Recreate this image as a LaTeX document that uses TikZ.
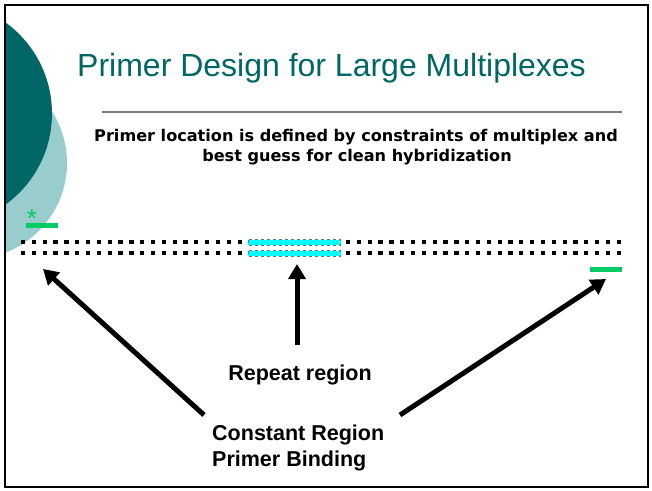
\documentclass[tikz,border=0pt]{standalone}
\usepackage{fontspec}
\setmainfont{Liberation Sans}
\newfontfamily\verdfont{DejaVu Sans}
\usetikzlibrary{arrows.meta}
\definecolor{darkteal}{RGB}{0,102,102}
\definecolor{lightteal}{RGB}{153,204,204}
\definecolor{primergreen}{RGB}{0,204,102}
\definecolor{dnacyan}{RGB}{0,255,255}
\definecolor{rulegray}{RGB}{128,128,128}
\tikzset{
  lbl/.style={font=\fontsize{21.5}{26}\selectfont\bfseries, inner sep=0pt},
  sublbl/.style={font=\verdfont\bfseries\fontsize{16.1}{20}\selectfont, inner sep=0pt},
  bigarrow/.style={line width=5pt, -{Triangle[length=15pt,width=17pt]}},
  dnasq/.style={fill=black},
  repeatbar/.style={fill=dnacyan, draw=cyan!55!black, dashed, line width=0.4pt},
  primerbar/.style={fill=primergreen}
}
\begin{document}
\begin{tikzpicture}[x=1pt,y=-1pt]
\useasboundingbox (0,0) rectangle (652,490);
\fill[white] (0,0) rectangle (652,490);
\begin{scope}
  \clip (5,5) rectangle (648,487);
  \fill[lightteal] (-29,163) circle[radius=96];
  \fill[darkteal] (-60.5,113.5) circle[radius=112.5];
\end{scope}
% title
\node[anchor=base west, text=darkteal, font=\fontsize{32}{38}\selectfont, inner sep=0pt] (title) at (77,76) {Primer Design for Large Multiplexes};
\coordinate (ruleA) at (102,112);
\coordinate (ruleB) at (622,112);
\draw[rulegray, line width=1.5pt] (ruleA) -- (ruleB);
\node[sublbl, anchor=base] (sub1) at (356,141) {Primer location is defined by constraints of multiplex and};
\node[sublbl, anchor=base] (sub2) at (357,161) {best guess for clean hybridization};
% DNA strands
\foreach \i in {0,...,20} {
  \fill[dnasq] (21+10.83*\i,240) rectangle +(4.2,4.2);
  \fill[dnasq] (21+10.83*\i,251) rectangle +(4.2,4.2);
}
\foreach \i in {0,...,25} {
  \fill[dnasq] (346+10.83*\i,240) rectangle +(4.2,4.2);
  \fill[dnasq] (346+10.83*\i,251) rectangle +(4.2,4.2);
}
\filldraw[repeatbar] (248,239.5) rectangle (340.5,245);
\filldraw[repeatbar] (248,250.5) rectangle (340.5,256);
% primers
\fill[primerbar] (26,223) rectangle (58,228);
\fill[primerbar] (590,267) rectangle (622,272);
\node[text=primergreen, font=\fontsize{26}{28}\selectfont, inner sep=0pt, anchor=base] (star) at (32,227) {*};
% labels
\node[lbl, anchor=base] (rep) at (300,380) {Repeat region};
\node[lbl, anchor=base west] (const) at (212,440) {Constant Region};
\node[lbl, anchor=base west] (bind) at (212,466) {Primer Binding};
% arrows
\coordinate (ltip) at (43,269);
\coordinate (ltail) at (204,415);
\coordinate (mtip) at (297,264);
\coordinate (mtail) at (297,345);
\coordinate (rtip) at (606,279);
\coordinate (rtail) at (400,415);
\draw[bigarrow] (ltail) -- (ltip);
\draw[bigarrow] (mtail) -- (mtip);
\draw[bigarrow] (rtail) -- (rtip);
% frame
\draw[black, line width=2.5pt] (5,5) rectangle (648,487);
\end{tikzpicture}
\end{document}
